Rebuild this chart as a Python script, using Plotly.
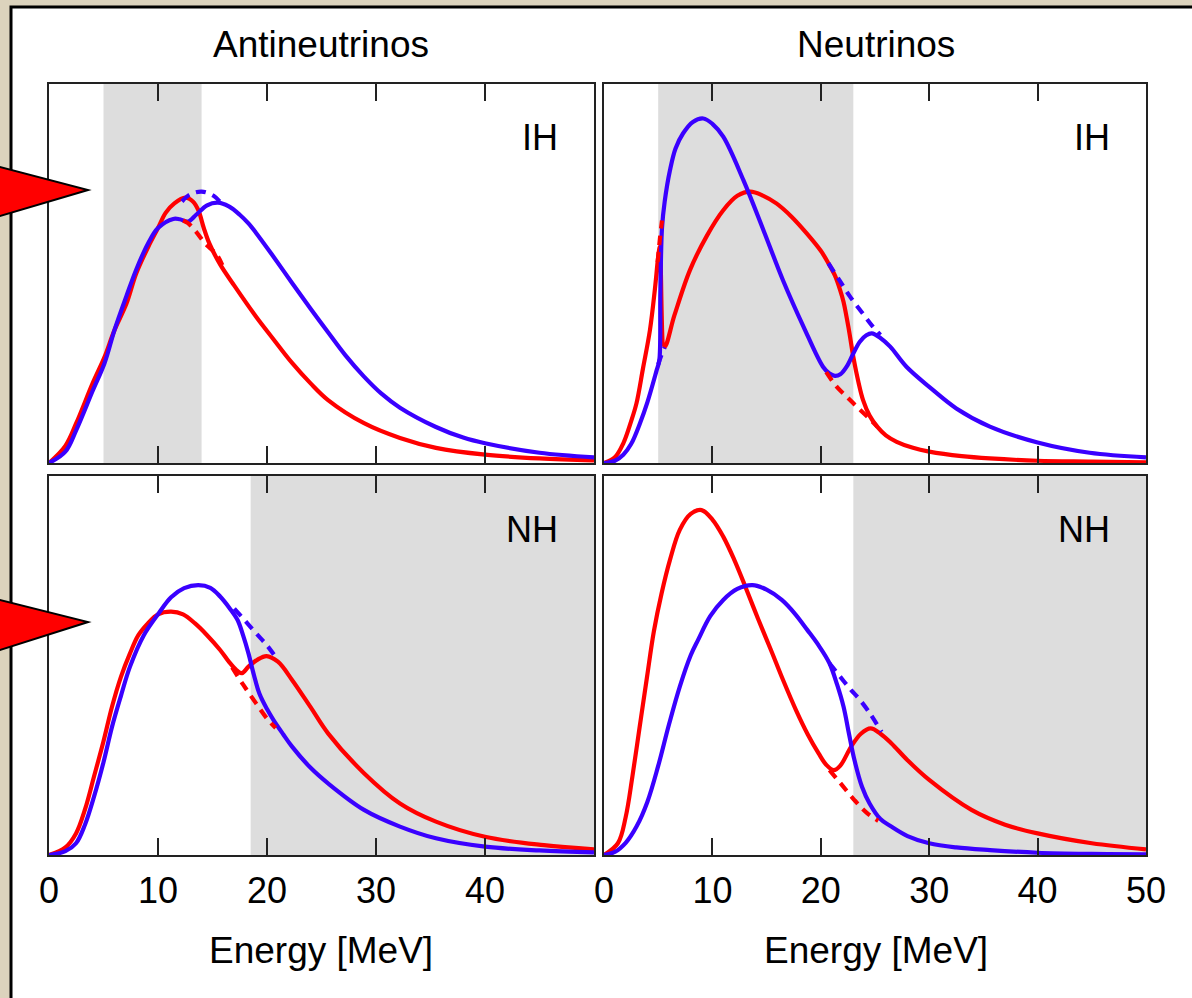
import plotly.graph_objects as go

# ---------------- data (energies in MeV, spectra in arbitrary units) ----------------
# Top-left: Antineutrinos, IH
tl_red_E = [0, 1.5, 2.5, 4, 5.1, 6, 7.1, 8, 9.1, 10, 10.7, 11.5, 12.5, 13.2, 13.7, 14.2, 14.7, 15.7, 17, 19, 20.5, 22.3, 24, 25.6, 28.9, 32.2, 35.5, 40, 45, 50]
tl_red_v = [0, 0.045, 0.105, 0.21, 0.28, 0.35, 0.42, 0.50, 0.57, 0.62, 0.66, 0.685, 0.70, 0.69, 0.667, 0.62, 0.58, 0.524, 0.468, 0.386, 0.33, 0.264, 0.21, 0.166, 0.105, 0.066, 0.04, 0.022, 0.012, 0.007]
tl_blue_E = [0, 1.5, 2.5, 4, 5.1, 6, 7.1, 8, 9.1, 10, 11.4, 12.0, 12.75, 13.5, 14.5, 15.5, 16.5, 17.5, 18.3, 19, 20.5, 22.3, 24, 25.6, 27.2, 28.9, 30.5, 32.2, 35.5, 38, 40, 45, 50]
tl_blue_v = [0, 0.03, 0.087, 0.19, 0.264, 0.35, 0.44, 0.51, 0.58, 0.62, 0.644, 0.643, 0.637, 0.655, 0.68, 0.687, 0.677, 0.655, 0.632, 0.607, 0.548, 0.475, 0.407, 0.345, 0.284, 0.228, 0.183, 0.146, 0.095, 0.067, 0.052, 0.027, 0.015]
tl_blue_dash_E = [12.2, 12.9, 14.0, 15.1, 15.8]
tl_blue_dash_v = [0.69, 0.708, 0.716, 0.705, 0.685]
tl_red_dash_E = [12.3, 12.75, 13.5, 14.3, 15.4, 15.9]
tl_red_dash_v = [0.64, 0.633, 0.61, 0.58, 0.549, 0.522]

# Top-right: Neutrinos, IH
tr_red_E = [0, 1.0, 1.78, 2.5, 3.0, 3.6, 4.24, 4.7, 5.0, 5.15, 5.6, 6.5, 7.93, 9.5, 11.0, 12.3, 13.5, 14.7, 15.9, 17.3, 18.7, 20.0, 20.7, 21.3, 21.8, 22.1, 22.6, 23.0, 23.5, 23.9, 24.5, 25.2, 26.0, 27.0, 28.5, 30, 33, 35.6, 40, 45, 50]
tr_red_v = [0, 0.015, 0.052, 0.11, 0.158, 0.25, 0.351, 0.46, 0.544, 0.57, 0.307, 0.39, 0.509, 0.60, 0.667, 0.705, 0.716, 0.705, 0.685, 0.65, 0.606, 0.56, 0.527, 0.495, 0.455, 0.425, 0.35, 0.28, 0.21, 0.166, 0.125, 0.096, 0.073, 0.056, 0.04, 0.03, 0.018, 0.012, 0.006, 0.004, 0.002]
tr_blue_E = [0, 1.0, 1.78, 2.5, 3.32, 4.0, 4.86, 5.1, 5.2, 5.35, 5.6, 6.09, 6.6, 7.3, 8.2, 9.16, 10.0, 11.0, 12.85, 14.7, 16.5, 18.4, 20.2, 20.8, 21.3, 21.8, 22.4, 23.0, 23.6, 24.2, 24.7, 25.5, 26.4, 27.9, 30, 32.5, 35.6, 40, 44.8, 50]
tr_blue_v = [0, 0.006, 0.022, 0.05, 0.105, 0.16, 0.245, 0.27, 0.45, 0.62, 0.69, 0.773, 0.83, 0.87, 0.90, 0.909, 0.895, 0.861, 0.747, 0.615, 0.483, 0.36, 0.254, 0.236, 0.23, 0.234, 0.255, 0.289, 0.32, 0.337, 0.342, 0.33, 0.307, 0.254, 0.201, 0.144, 0.096, 0.054, 0.027, 0.015]
tr_blue_dash_E = [20.7, 21.7, 22.7, 23.8, 24.8, 25.5]
tr_blue_dash_v = [0.527, 0.483, 0.439, 0.397, 0.36, 0.338]
tr_red_dash_E = [20.5, 21.5, 22.5, 23.3, 24.3, 25.2]
tr_red_dash_v = [0.24, 0.20, 0.172, 0.149, 0.122, 0.096]
tr_red_dash2_E = [4.95, 5.15, 5.35]
tr_red_dash2_v = [0.53, 0.59, 0.64]
tr_blue_dash2_E = [5.0, 5.3, 5.6]
tr_blue_dash2_v = [0.26, 0.285, 0.305]

# Bottom-left: Antineutrinos, NH
bl_red_E = [0, 1.5, 2.48, 3.3, 4.13, 5, 5.78, 6.6, 7.43, 8.2, 9.07, 10, 11.2, 12.3, 13.4, 14.5, 15.7, 16.5, 17.2, 17.7, 18.3, 19.1, 19.96, 21, 22.3, 24, 25.6, 28.9, 32.2, 35.5, 40, 45.4, 50]
bl_red_v = [0, 0.02, 0.057, 0.12, 0.207, 0.30, 0.391, 0.47, 0.532, 0.58, 0.611, 0.635, 0.642, 0.635, 0.611, 0.58, 0.541, 0.51, 0.488, 0.48, 0.497, 0.515, 0.525, 0.51, 0.462, 0.39, 0.321, 0.216, 0.136, 0.088, 0.048, 0.026, 0.015]
bl_blue_E = [0, 1.5, 2.48, 3.3, 4.13, 5, 5.78, 6.6, 7.43, 8.7, 10.07, 11.2, 12.4, 13.7, 14.8, 15.7, 16.6, 17.3, 17.8, 18.3, 18.8, 19.3, 20, 20.6, 21.5, 22.3, 24, 25.6, 28.9, 32.2, 35.5, 40, 45, 50]
bl_blue_v = [0, 0.01, 0.031, 0.08, 0.154, 0.245, 0.338, 0.42, 0.497, 0.58, 0.638, 0.68, 0.704, 0.712, 0.705, 0.682, 0.65, 0.62, 0.58, 0.532, 0.475, 0.426, 0.385, 0.356, 0.318, 0.286, 0.23, 0.189, 0.119, 0.075, 0.044, 0.022, 0.012, 0.007]
bl_blue_dash_E = [17.0, 18.0, 19.0, 20.0, 20.9]
bl_blue_dash_v = [0.65, 0.618, 0.585, 0.553, 0.518]
bl_red_dash_E = [16.8, 17.8, 19.0, 20.0, 20.8]
bl_red_dash_v = [0.495, 0.45, 0.40, 0.36, 0.335]

# Bottom-right: Neutrinos, NH
br_red_E = [0, 1.28, 2.0, 2.62, 3.3, 3.97, 4.6, 5.31, 6.1, 6.99, 8.0, 9.0, 10.0, 11.0, 12.0, 13.04, 14.2, 15.4, 16.5, 17.7, 18.8, 19.8, 20.5, 21.2, 21.8, 22.8, 23.7, 24.6, 25.5, 26.5, 28, 30, 33.9, 37, 40, 45, 50]
br_red_v = [0, 0.031, 0.1, 0.207, 0.34, 0.47, 0.59, 0.69, 0.78, 0.858, 0.9, 0.91, 0.885, 0.84, 0.78, 0.708, 0.624, 0.541, 0.463, 0.383, 0.318, 0.268, 0.238, 0.224, 0.236, 0.286, 0.32, 0.334, 0.32, 0.295, 0.25, 0.198, 0.119, 0.08, 0.057, 0.031, 0.015]
br_blue_E = [0, 1, 2, 3, 4, 5, 6, 7, 8, 8.67, 9.8, 11.0, 12.3, 13.7, 15.0, 16.4, 17.6, 18.75, 19.8, 20.8, 21.5, 22.1, 22.6, 23.1, 23.8, 24.5, 25.5, 26.5, 28, 30, 32.5, 35.6, 40, 45, 50]
br_blue_v = [0, 0.008, 0.032, 0.075, 0.14, 0.235, 0.345, 0.445, 0.527, 0.567, 0.63, 0.673, 0.702, 0.712, 0.70, 0.673, 0.637, 0.594, 0.553, 0.506, 0.45, 0.391, 0.32, 0.251, 0.18, 0.136, 0.095, 0.075, 0.05, 0.031, 0.02, 0.013, 0.006, 0.003, 0.002]
br_blue_dash_E = [20.8, 21.8, 22.8, 23.5, 24.5, 25.6]
br_blue_dash_v = [0.506, 0.47, 0.435, 0.413, 0.375, 0.325]
br_red_dash_E = [20.8, 21.8, 23.1, 24.3, 25.3]
br_red_dash_v = [0.224, 0.19, 0.145, 0.11, 0.09]

# shaded energy windows (MeV) per panel
shade_ranges = [(5, 14), (5, 23), (18.5, 50), (23, 50)]
panel_labels = ["IH", "IH", "NH", "NH"]
column_titles = ["Antineutrinos", "Neutrinos"]
x_title = "Energy [MeV]"
tick_vals = [0, 10, 20, 30, 40, 50]
tick_text_left = ["0", "10", "20", "30", "40", ""]
tick_text_right = ["0", "10", "20", "30", "40", "50"]

# ---------------- layout helpers ----------------
W, H = 1192, 998
def px(x):
    return x / W
def py(y):
    return 1 - y / H

RED = "#ff0000"
BLUE = "#3a00ff"
FONT = "Liberation Sans, Arial, Helvetica, sans-serif"

# panels: (xaxis, yaxis, left, right, top, bottom) in pixels
panels = [
    ("x", "y", 49, 594, 84, 463),
    ("x2", "y2", 604, 1146, 84, 463),
    ("x3", "y3", 49, 594, 476, 855),
    ("x4", "y4", 604, 1146, 476, 855),
]

series = [
    [(tl_red_E, tl_red_v, RED, None), (tl_blue_E, tl_blue_v, BLUE, None),
     (tl_red_dash_E, tl_red_dash_v, RED, "dash"), (tl_blue_dash_E, tl_blue_dash_v, BLUE, "dash")],
    [(tr_red_E, tr_red_v, RED, None), (tr_blue_E, tr_blue_v, BLUE, None),
     (tr_red_dash_E, tr_red_dash_v, RED, "dash"), (tr_blue_dash_E, tr_blue_dash_v, BLUE, "dash"),
     (tr_red_dash2_E, tr_red_dash2_v, RED, "dash"), (tr_blue_dash2_E, tr_blue_dash2_v, BLUE, "dash")],
    [(bl_red_E, bl_red_v, RED, None), (bl_blue_E, bl_blue_v, BLUE, None),
     (bl_red_dash_E, bl_red_dash_v, RED, "dash"), (bl_blue_dash_E, bl_blue_dash_v, BLUE, "dash")],
    [(br_red_E, br_red_v, RED, None), (br_blue_E, br_blue_v, BLUE, None),
     (br_red_dash_E, br_red_dash_v, RED, "dash"), (br_blue_dash_E, br_blue_dash_v, BLUE, "dash")],
]

fig = go.Figure()

for i, (xa, ya, l, r, t, b) in enumerate(panels):
    for (E, v, col, dash) in series[i]:
        fig.add_trace(go.Scatter(
            x=E, y=v, xaxis=xa, yaxis=ya, mode="lines",
            line=dict(color=col, width=4.2, dash="10px,7px" if dash else None,
                      shape="spline", smoothing=1.0),
            showlegend=False, hoverinfo="skip"))

layout = dict(
    width=W, height=H, autosize=False,
    margin=dict(l=0, r=0, t=0, b=0, pad=0, autoexpand=False),
    paper_bgcolor="#dcd3bd",
    plot_bgcolor="white",
    showlegend=False,
    font=dict(family=FONT, color="black"),
)

shapes = []
annotations = []

# white panel with black border
shapes.append(dict(type="rect", xref="paper", yref="paper",
                   x0=px(11), x1=px(W + 20), y0=py(H + 20), y1=py(7),
                   fillcolor="white", line=dict(color="black", width=3), layer="below"))

for i, (xa, ya, l, r, t, b) in enumerate(panels):
    xkey = "xaxis" if xa == "x" else "xaxis" + xa[1:]
    ykey = "yaxis" if ya == "y" else "yaxis" + ya[1:]
    bottom_row = i >= 2
    layout[xkey] = dict(
        domain=[px(l), px(r)], range=[0, 50], anchor=ya, automargin=False,
        showgrid=False, zeroline=False,
        showline=True, linecolor="#222", linewidth=2, mirror="ticks",
        ticks="inside", ticklen=17, tickwidth=2, tickcolor="#222",
        tickvals=tick_vals,
        ticktext=(tick_text_left if i == 2 else tick_text_right),
        showticklabels=bottom_row,
        tickfont=dict(size=36, family=FONT, color="black"),
        ticklabelstandoff=3,
    )
    layout[ykey] = dict(
        domain=[py(b), py(t)], range=[0, 1.0], anchor=xa, automargin=False,
        showgrid=False, zeroline=False, showticklabels=False,
        showline=True, linecolor="#222", linewidth=2, mirror=True, ticks="",
    )
    s0, s1 = shade_ranges[i]
    shapes.append(dict(type="rect", xref=xa, yref=ya + " domain",
                       x0=s0, x1=s1, y0=0, y1=1,
                       fillcolor="#dddddd", line=dict(width=0), layer="below"))
    annotations.append(dict(text=panel_labels[i], xref=xa, yref=ya,
                            x=46.9, y=0.86, xanchor="right", yanchor="middle",
                            showarrow=False, font=dict(size=36, family=FONT, color="black")))

# column titles and axis titles
for txt, cx in zip(column_titles, [321, 876]):
    annotations.append(dict(text=txt, xref="paper", yref="paper", x=px(cx), y=py(45),
                            xanchor="center", yanchor="middle", showarrow=False,
                            font=dict(size=37, family=FONT, color="black")))
for cx in [321, 876]:
    annotations.append(dict(text=x_title, xref="paper", yref="paper", x=px(cx), y=py(950),
                            xanchor="center", yanchor="middle", showarrow=False,
                            font=dict(size=37, family=FONT, color="black")))

# red arrow triangles on the left edge
def tri(tip_x, tip_y, top_y0, bot_y0):
    x_far = -40
    ty = top_y0 - (tip_y - top_y0) * 40 / tip_x
    by = bot_y0 + (bot_y0 - tip_y) * 40 / tip_x
    return "M {:.5f},{:.5f} L {:.5f},{:.5f} L {:.5f},{:.5f} Z".format(
        px(x_far), py(ty), px(tip_x), py(tip_y), px(x_far), py(by))

for (tx, tyy, a, bb) in [(88, 190, 167, 216), (88, 622, 600, 650)]:
    shapes.append(dict(type="path", xref="paper", yref="paper", path=tri(tx, tyy, a, bb),
                       fillcolor="#ff0000", line=dict(color="black", width=2), layer="above"))

layout["shapes"] = shapes
layout["annotations"] = annotations
fig.update_layout(**layout)

fig.write_html("out.html", config={"displayModeBar": False, "responsive": False},
               post_script="document.body.style.margin='0';document.body.style.overflow='hidden';")
